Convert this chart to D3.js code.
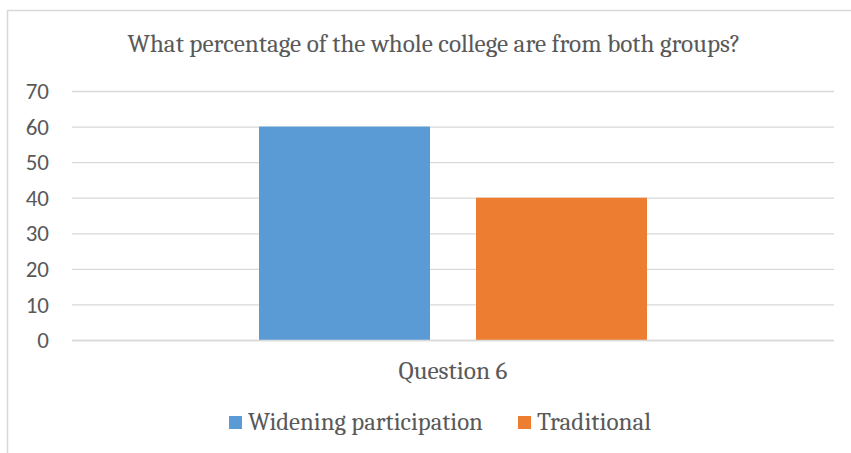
<!DOCTYPE html>
<html><head><meta charset="utf-8">
<script src="https://cdn.jsdelivr.net/npm/d3@7"></script>
<style>body{margin:0;background:#fff}</style>
</head><body>
<svg id="c" width="851" height="453"></svg>
<script>
const categories = ["Question 6"];
const seriesNames = ["Widening participation", "Traditional"];
const seriesValues = [[60], [40]];
const yTicks = [0, 10, 20, 30, 40, 50, 60, 70];
const colors = ["#5b9bd5", "#ed7d31"];
const title = "What percentage of the whole college are from both groups?";

const svg = d3.select("#c");
const serif = "Cambria, 'DejaVu Serif', 'Liberation Serif', serif";
const sans = "Calibri, Carlito, 'Open Sans', 'Liberation Sans', Arial, sans-serif";
const textColor = "#595959";

// fit a text element's font-size so its width matches the target
function fit(sel, target) {
  const w = sel.node().getComputedTextLength();
  const fs = parseFloat(sel.attr("font-size"));
  if (w > 0) sel.attr("font-size", (fs * target / w).toFixed(2));
  return sel;
}

svg.append("rect").attr("width",851).attr("height",453).attr("fill","#fff");
// chart border
svg.append("path").attr("d","M7.5,453 V10.5 H851").attr("fill","none").attr("stroke","#d9d9d9").attr("stroke-width",1.5);

const m = {left:72, right:834, top:91, bottom:340};
const y = d3.scaleLinear().domain([0,70]).range([m.bottom, m.top]);
const x0 = d3.scaleBand().domain(categories).range([m.left, m.right]).paddingInner(0).paddingOuter(0.482);
const x1 = d3.scaleBand().domain(seriesNames).range([0, x0.bandwidth()]).paddingInner(0.212);

// gridlines
svg.append("g").selectAll("line").data(yTicks).join("line")
  .attr("x1", m.left).attr("x2", m.right)
  .attr("y1", d => y(d)+0.5).attr("y2", d => y(d)+0.5)
  .attr("stroke", "#d9d9d9").attr("stroke-width", 1.3);

// y axis labels
const yAxis = d3.axisLeft(y).tickValues(yTicks).tickSize(0).tickPadding(0);
const ga = svg.append("g").attr("transform", `translate(49,0)`).call(yAxis);
ga.select(".domain").remove();
ga.attr("font-size", null).attr("font-family", null);
ga.selectAll("text")
  .attr("font-family", sans).attr("font-size", 22.5).attr("fill", textColor)
  .attr("dy", "0.33em");
// size the labels so "70" matches the reference width
(function(){
  const t = ga.selectAll("text").filter(d => d === 70);
  const w = t.node().getComputedTextLength();
  if (w > 0) ga.selectAll("text").attr("font-size", (22.5 * 23.3 / w).toFixed(2));
})();

// bars
const g = svg.append("g");
categories.forEach((c, ci) => {
  seriesNames.forEach((s, si) => {
    const v = seriesValues[si][ci];
    g.append("rect")
      .attr("x", x0(c) + x1(s))
      .attr("y", y(v))
      .attr("width", x1.bandwidth())
      .attr("height", y(0) - y(v))
      .attr("fill", colors[si]);
  });
});
// baseline
svg.append("line").attr("x1", m.left).attr("x2", m.right).attr("y1", y(0)+0.5).attr("y2", y(0)+0.5).attr("stroke","#d9d9d9").attr("stroke-width",1.3);

// category label
svg.selectAll(".cat").data(categories).join("text")
  .attr("x", d => x0(d) + x0.bandwidth()/2)
  .attr("y", 379)
  .attr("text-anchor","middle")
  .attr("font-family", serif).attr("font-size", 20).attr("fill", textColor)
  .text(d => d)
  .each(function(){ fit(d3.select(this), 109); });

// title
fit(svg.append("text").attr("x", 434).attr("y", 52).attr("text-anchor","middle")
  .attr("font-family", serif).attr("font-size", 20).attr("fill", textColor).text(title), 613);

// legend
const legX = [229, 518];
const legW = [235, 114];
seriesNames.forEach((s, i) => {
  svg.append("rect").attr("x", legX[i]).attr("y", 416).attr("width", 13).attr("height", 13).attr("fill", colors[i]);
  fit(svg.append("text").attr("x", legX[i] + 19).attr("y", 430)
    .attr("font-family", serif).attr("font-size", 22).attr("fill", textColor).text(s), legW[i]);
});
</script>
</body></html>
